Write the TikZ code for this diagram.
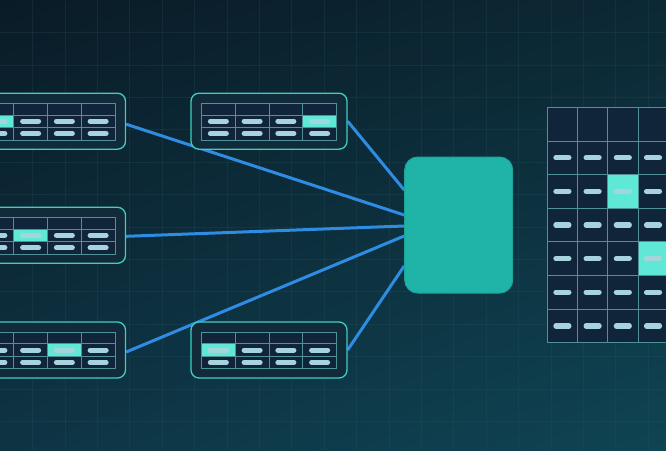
\documentclass[tikz,border=0pt]{standalone}
\usetikzlibrary{calc,shadings}
\definecolor{bgTL}{HTML}{0A1B27}
\definecolor{bgTR}{HTML}{0C2834}
\definecolor{bgBL}{HTML}{0E3444}
\definecolor{bgBR}{HTML}{0F4453}
\definecolor{gridc}{HTML}{2A5A68}
\definecolor{panelfill}{HTML}{112B3A}
\definecolor{panelborder}{HTML}{3ECFC0}
\definecolor{tablefill}{HTML}{10253A}
\definecolor{tableline}{HTML}{4E9298}
\definecolor{hlfill}{HTML}{5EE8D5}
\definecolor{pillc}{HTML}{A6D3DC}
\definecolor{pillhlc}{HTML}{A2D6D8}
\definecolor{hubfill}{HTML}{20B3A8}
\definecolor{hubborder}{HTML}{1CA49A}
\definecolor{connc}{HTML}{2E8CE2}
\pgfdeclarelayer{bg}
\pgfsetlayers{bg,main}
\tikzset{
  panel/.style={draw=panelborder, fill=panelfill, line width=1.3pt, rounded corners=8pt,
    minimum width=156pt, minimum height=56pt, inner sep=0pt},
  hub/.style={draw=hubborder, fill=hubfill, line width=1pt, rounded corners=13pt,
    minimum width=108pt, minimum height=136pt, inner sep=0pt},
  tline/.style={draw=tableline, line width=0.8pt},
  pill/.style={draw=pillc, line width=5pt, line cap=round},
  pillhl/.style={draw=pillhlc, line width=5pt, line cap=round},
  rpill/.style={draw=pillc, line width=5.2pt, line cap=round},
  rpillhl/.style={draw=pillhlc, line width=5.2pt, line cap=round},
  conn/.style={draw=connc, line width=3pt},
  gridline/.style={draw=gridc, line width=0.5pt, opacity=0.22}
}
\newcommand\mypanel[4]{%
  \node[panel] (#1) at (#2,#3) {};
  \fill[tablefill] ({#2-67.5},{#3-18}) rectangle ({#2+67.5},{#3+18.8});
  \fill[hlfill] ({#2-67.5+33.75*(#4-1)},{#3-6.2}) rectangle ({#2-67.5+33.75*#4},{#3+6.1});
  \draw[tline] ({#2-67.5},{#3-18}) rectangle ({#2+67.5},{#3+18.8});
  \draw[tline] ({#2-67.5},{#3-6.2}) -- ({#2+67.5},{#3-6.2});
  \draw[tline] ({#2-67.5},{#3+6.1}) -- ({#2+67.5},{#3+6.1});
  \foreach \c in {1,2,3} {\draw[tline] ({#2-67.5+33.75*\c},{#3-18}) -- ({#2-67.5+33.75*\c},{#3+18.8});}
  \foreach \c in {0,1,2,3} {
    \foreach \r in {0,1} {
      \draw[pill] ({#2-67.5+33.75*\c+8.875},{#3+12.4*\r}) -- ++(16,0);
    }
  }
  \draw[pillhl] ({#2-67.5+33.75*(#4-1)+8.875},{#3}) -- ++(16,0);
}
\begin{document}
\begin{tikzpicture}[x=1pt,y=-1pt]
\useasboundingbox (0,0) rectangle (666,450);
\clip (0,0) rectangle (666,450);
\begin{pgfonlayer}{bg}
  \shade[upper left=bgTL, upper right=bgTR, lower left=bgBL, lower right=bgBR] (0,0) rectangle (666,450);
  \foreach \k in {1,...,20} {\draw[gridline] ({32.4*\k},0) -- ({32.4*\k},450);}
  \foreach \k in {1,...,13} {\draw[gridline] (0,{32.4*\k}) -- (666,{32.4*\k});}
\end{pgfonlayer}

% panels
\mypanel{p1}{47.5}{121.2}{1}
\mypanel{p2}{269}{121.2}{4}
\mypanel{p3}{47.5}{235.3}{2}
\mypanel{p4}{47.5}{350}{3}
\mypanel{p5}{269}{350}{1}

% hub
\node[hub] (hub) at (458.7,225) {};

% right grid
\fill[tablefill] (547.3,107.3) rectangle (680,342.7);
\fill[hlfill] (607.7,174.3) rectangle (637.9,207.9);
\fill[hlfill] (637.9,241.6) rectangle (680,275.2);
\foreach \k in {0,...,4} {\draw[tline] ({547.3+30.2*\k},107.3) -- ({547.3+30.2*\k},342.7);}
\foreach \r in {0,...,7} {\draw[tline] (547.3,{107.3+33.63*\r}) -- (680,{107.3+33.63*\r});}
\foreach \r in {1,...,6} {
  \foreach \c in {0,...,3} {
    \draw[rpill] ({547.3+30.2*\c+15.1-6.5},{107.3+33.63*(\r+0.5)}) -- ++(13,0);
  }
}
\draw[rpillhl] ({547.3+30.2*2+15.1-6.5},{107.3+33.63*2.5}) -- ++(13,0);
\draw[rpillhl] ({547.3+30.2*3+15.1-6.5},{107.3+33.63*4.5}) -- ++(13,0);

% connectors
\begin{pgfonlayer}{bg}
  \draw[conn] ([yshift=-3pt]p1.east) -- ([yshift=10pt]hub.west);
  \draw[conn] ([yshift=0pt]p2.east) -- ([yshift=35pt]hub.west);
  \draw[conn] ([yshift=-1pt]p3.east) -- ([yshift=-1pt]hub.west);
  \draw[conn] ([yshift=-2pt]p4.east) -- ([yshift=-11pt]hub.west);
  \draw[conn] ([yshift=0pt]p5.east) -- ([yshift=-41pt]hub.west);
\end{pgfonlayer}
\end{tikzpicture}
\end{document}
